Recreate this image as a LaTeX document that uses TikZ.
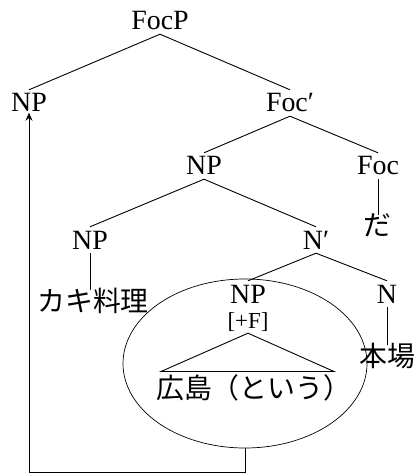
\documentclass[tikz,border=0pt]{standalone}
\usepackage{fontspec}
\setmainfont{Liberation Serif}
\newfontfamily\jp{Noto Sans CJK JP}
\usetikzlibrary{arrows.meta,shapes.geometric}
\tikzset{
  lat/.style={font=\fontsize{28}{32}\selectfont, anchor=base, text height=18bp, text depth=0pt, inner xsep=0pt, inner ysep=4bp},
  feat/.style={font=\fontsize{23}{26}\selectfont, anchor=base, text height=15bp, text depth=0pt, inner xsep=0pt, inner ysep=5bp},
  jpn/.style={font=\jp\fontsize{28}{32}\selectfont, anchor=base, text height=21bp, text depth=0pt, inner sep=0pt},
  branch/.style={line width=0.9bp},
}
\begin{document}
\begin{tikzpicture}[x=1bp,y=-1bp]
\useasboundingbox (0,0) rectangle (415,475);
\node[lat] (focp) at (160,30) {FocP};
\node[lat] (np1) at (29,112) {NP};
\node[lat] (focbar) at (290,112) {Foc′};
\node[lat] (npm) at (204,175) {NP};
\node[lat] (foc) at (378,175) {Foc};
\node[jpn] (da) at (377,236) {だ};
\node[lat] (npl) at (90,249) {NP};
\node[lat] (nbar) at (316,249) {N′};
\node[jpn] (kaki) at (93,311) {カキ料理};
\node[lat] (npi) at (248,303) {NP};
\node[lat] (n) at (387,303) {N};
\node[feat] (f) at (248,328) {[+F]};
\node[jpn] (honba) at (387.5,366) {本場};
\node[jpn, anchor=base west] (hiro) at (156,398) {広島（という）};
\node[draw, ellipse, line width=0.7bp, minimum width=244bp, minimum height=169bp, inner sep=0pt] (circ) at (245,363.5) {};
\coordinate (tl) at (161,371.5);
\coordinate (tr) at (334,371.5);

\draw[branch] (focp.south) -- (np1.north);
\draw[branch] (focp.south) -- (focbar.north);
\draw[branch] (focbar.south) -- (npm.north);
\draw[branch] (focbar.south) -- (foc.north);
\draw[branch] (foc.south) -- (foc.south |- da.north);
\draw[branch] (npm.south) -- (npl.north);
\draw[branch] (npm.south) -- (nbar.north);
\draw[branch] (npl.south) -- (npl.south |- kaki.north);
\draw[branch] (nbar.south) -- (npi.north);
\draw[branch] (nbar.south) -- (n.north);
\draw[branch] (n.south) -- (n.south |- honba.north);
\draw[branch] (f.south) -- (tl) -- (tr) -- cycle;
\draw[branch, shorten >=-3.5bp, -{Stealth[length=8bp,width=7bp]}] (circ.south) -- ++(0,24.5) -| (np1.south);
\end{tikzpicture}
\end{document}
